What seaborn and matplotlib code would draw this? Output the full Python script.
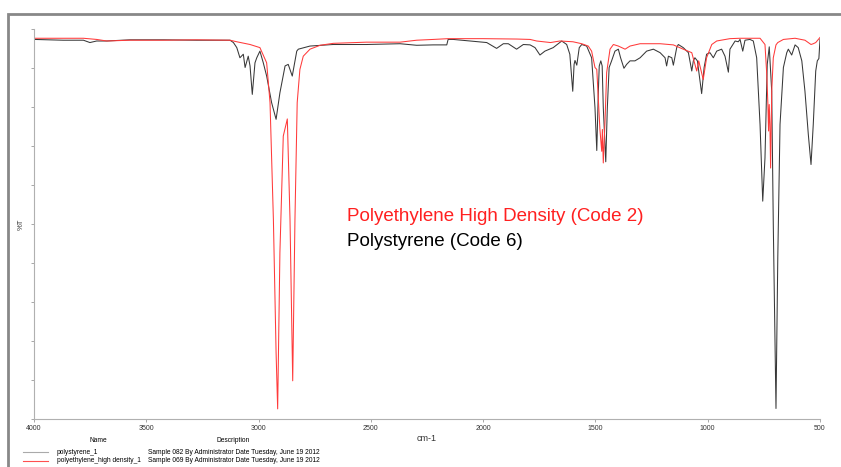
import pandas as pd
import numpy as np
import matplotlib
matplotlib.use('Agg')
import matplotlib.pyplot as plt
import seaborn as sns
from matplotlib.patches import Rectangle
from matplotlib.lines import Line2D

# Polystyrene (Code 6) - wavenumber (cm-1) y %T
ps_wn = [4000, 3870, 3780, 3751, 3721, 3676, 3573, 3424, 3276, 3127, 3112, 3097, 3083, 3068,
         3060, 3046, 3038, 3028, 3016, 3008, 2994, 2979, 2964, 2942, 2922, 2905, 2882, 2868,
         2850, 2830, 2823, 2771, 2669, 2520, 2370, 2296, 2222, 2162, 2156, 2133, 2058, 1984,
         1969, 1940, 1910, 1888, 1851, 1821, 1791, 1769, 1747, 1725, 1688, 1650, 1628, 1614,
         1601, 1595, 1591, 1583, 1572, 1561, 1539, 1517, 1502, 1494, 1487, 1483, 1476, 1470,
         1465, 1454, 1447, 1439, 1428, 1413, 1398, 1388, 1373, 1361, 1346, 1324, 1301, 1272,
         1242, 1212, 1190, 1183, 1175, 1160, 1153, 1138, 1131, 1109, 1086, 1071, 1064, 1057,
         1046, 1027, 1016, 1005, 990, 975, 960, 938, 923, 908, 901, 878, 864, 856, 844, 834,
         812, 797, 782, 767, 755, 745, 735, 726, 715, 708, 696, 688, 678, 663, 648, 641, 626,
         611, 597, 581, 567, 552, 540, 530, 519, 512, 505, 500]
ps_t = [97.4, 97.2, 97.2, 96.6, 97.0, 97.0, 97.3, 97.3, 97.2, 97.2, 96.6, 95.3, 92.7, 93.6,
        90.2, 93.1, 90.6, 83.3, 91.4, 92.7, 94.4, 91.4, 88.0, 81.2, 76.9, 83.7, 90.6, 91.0,
        88.0, 94.4, 94.9, 95.7, 96.1, 96.1, 96.3, 95.9, 96.0, 96.0, 97.4, 97.4, 97.0, 96.6,
        96.1, 95.1, 96.3, 96.3, 94.9, 96.1, 96.0, 95.3, 93.4, 94.4, 95.3, 97.0, 96.1, 93.6,
        84.1, 91.0, 92.0, 90.8, 95.3, 96.1, 95.7, 92.7, 79.9, 68.9, 84.1, 90.6, 91.9, 90.6,
        79.9, 66.0, 79.9, 90.2, 91.9, 94.4, 94.9, 92.7, 90.0, 91.0, 91.9, 91.9, 92.7, 94.4,
        94.9, 94.0, 92.7, 90.6, 93.1, 92.7, 90.8, 95.3, 96.1, 95.3, 94.0, 89.3, 91.9, 92.7,
        91.9, 83.5, 90.2, 93.6, 94.0, 92.7, 94.4, 94.9, 93.1, 89.0, 94.9, 97.0, 96.8, 97.4, 94.4, 97.2,
        97.4, 97.0, 92.7, 75.6, 55.9, 67.0, 91.0, 95.5, 84.1, 49.9, 2.7, 41.3, 75.6, 90.2, 94.0, 94.9, 93.4,
        96.0, 95.3, 91.9, 84.1, 73.0, 65.3, 75.6, 89.3, 91.9, 92.5, 97.4]

# Polyethylene High Density (Code 2)
pe_wn = [4000, 3870, 3780, 3721, 3676, 3573, 3424, 3276, 3127, 3097, 3038, 2994, 2964, 2949,
         2934, 2922, 2915, 2905, 2890, 2872, 2860, 2848, 2838, 2828, 2816, 2801, 2771, 2726,
         2667, 2519, 2370, 2296, 2222, 2155, 2000, 1850, 1791, 1762, 1700, 1658, 1600, 1561,
         1532, 1517, 1502, 1494, 1480, 1472, 1469, 1465, 1457, 1450, 1435, 1420, 1398, 1368,
         1346, 1301, 1212, 1153, 1109, 1071, 1049, 1040, 1020, 1005, 982, 960, 901, 856, 767,
         745, 737, 732, 729, 726, 723, 720, 715, 708, 696, 688, 663, 611, 567, 540, 530, 519, 500]
pe_t = [97.7, 97.7, 97.7, 97.4, 97.0, 97.2, 97.2, 97.3, 97.2, 96.8, 96.1, 95.3, 91.4, 81.2,
        51.2, 17.0, 2.6, 42.7, 72.6, 77.0, 51.2, 9.8, 51.2, 81.2, 89.7, 93.1, 94.9, 95.9,
        96.4, 96.7, 96.7, 97.2, 97.4, 97.6, 97.6, 97.5, 97.4, 97.0, 96.6, 97.0, 96.8, 96.3,
        95.7, 94.4, 90.2, 89.7, 74.3, 68.7, 74.3, 65.7, 76.9, 88.9, 94.9, 96.1, 95.7, 94.9,
        95.7, 96.3, 96.3, 96.0, 94.9, 94.0, 89.3, 91.9, 87.1, 92.7, 96.1, 97.0, 97.6, 97.7, 97.7,
        96.1, 88.4, 80.7, 73.9, 80.7, 75.6, 64.4, 84.1, 92.7, 96.0, 96.6, 97.4, 97.7, 97.2, 96.1, 96.3, 96.6, 97.9]

x_ticks = [4000, 3500, 3000, 2500, 2000, 1500, 1000, 500]

df_ps = pd.DataFrame({'cm-1': ps_wn, '%T': ps_t})
df_pe = pd.DataFrame({'cm-1': pe_wn, '%T': pe_t})

W, H = 841, 467
fig = plt.figure(figsize=(W / 100, H / 100), dpi=100)
plt.rcParams['font.family'] = ['Liberation Sans', 'DejaVu Sans']

ax = fig.add_axes([34 / W, 1 - 419 / H, 786 / W, (419 - 29.3) / H])
sns.lineplot(data=df_ps, x='cm-1', y='%T', ax=ax, color='#383838', lw=0.75, estimator=None)
sns.lineplot(data=df_pe, x='cm-1', y='%T', ax=ax, color='#ff3a3a', lw=0.75, estimator=None)

ax.set_xlim(4000, 500)
ax.set_ylim(0, 100)
ax.set_xticks(x_ticks)
ax.set_xticklabels([str(t) for t in x_ticks], fontsize=5, color='#333333')
ax.set_yticks(np.arange(0, 101, 10))
ax.set_yticklabels([])
ax.tick_params(axis='both', length=2, width=0.6, color='#999999', pad=2)
for s in ['top', 'right']:
    ax.spines[s].set_visible(False)
for s in ['left', 'bottom']:
    ax.spines[s].set_color('#b0b0b0')
    ax.spines[s].set_linewidth(0.8)
ax.set_xlabel('cm-1', fontsize=6.5, color='#333333', labelpad=2)
ax.set_ylabel('%T', fontsize=5.5, color='#333333', labelpad=3)

# Anotaciones
fig.text(347 / W, 1 - 217 / H, 'Polyethylene High Density (Code 2)', color='#ff2020',
         fontsize=13.5, va='center', ha='left')
fig.text(347 / W, 1 - 242 / H, 'Polystyrene (Code 6)', color='black',
         fontsize=13.5, va='center', ha='left')

# Marco exterior
fig.patches.append(Rectangle((8 / W, -0.1), 1.2, 0.1 + 1 - 14 / H, transform=fig.transFigure,
                             fill=False, edgecolor='#888888', lw=2))

# Tabla de leyenda
fig.text(98 / W, 1 - 441 / H, 'Name', fontsize=4.8, ha='center', va='center')
fig.text(233 / W, 1 - 441 / H, 'Description', fontsize=4.8, ha='center', va='center')
rows = [('polystyrene_1', '#aaaaaa', 'Sample 082 By Administrator Date Tuesday, June 19 2012'),
        ('polyethylene_high density_1', '#ff5050', 'Sample 069 By Administrator Date Tuesday, June 19 2012')]
for i, (nm, c, desc) in enumerate(rows):
    yy = 1 - (452 + 9 * i) / H
    fig.add_artist(Line2D([23 / W, 48 / W], [yy, yy], color=c, lw=0.8, transform=fig.transFigure))
    fig.text(57 / W, yy, nm, fontsize=4.8, va='center')
    fig.text(148 / W, yy, desc, fontsize=4.8, va='center')

fig.savefig('out.png', dpi=100)
